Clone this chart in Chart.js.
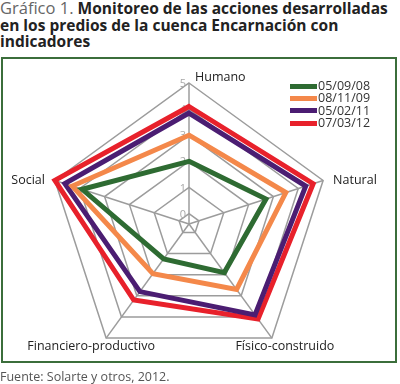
<!DOCTYPE html>
<html>
<head>
<meta charset="utf-8">
<script src="https://cdn.jsdelivr.net/npm/chart.js@4"></script>
<style>
  body { margin: 0; width: 400px; height: 384px; background: #fff; position: relative; overflow: hidden; font-family: 'Open Sans', sans-serif; }
  #title { position: absolute; left: 0; top: 0; width: 400px; font-size: 15.5px; line-height: 16.5px; color: #222; font-weight: bold; white-space: nowrap; }
  #title .pre { font-weight: normal; color: #666; font-size: 16.5px; }
  #frame { position: absolute; left: 1px; top: 57px; width: 392px; height: 302px; border: 2.5px solid #3b6e3b; }
  #chart { position: absolute; left: 0; top: 0; }
  #legend { position: absolute; left: 290px; top: 80px; font-size: 12.5px; color: #333; }
  #legend div { height: 12.3px; line-height: 12.3px; display: flex; align-items: center; }
  #legend span.sw { display: inline-block; width: 27px; height: 5px; margin-right: 1px; }
  #source { position: absolute; left: 0; top: 368px; font-size: 12.5px; color: #555; }
</style>
</head>
<body>
<div id="title"><span class="pre">Gráfico 1.</span> Monitoreo de las acciones desarrolladas<br>en los predios de la cuenca Encarnación con<br>indicadores</div>
<div id="frame"></div>
<canvas id="chart" width="400" height="384"></canvas>
<div id="legend"></div>
<div id="source">Fuente: Solarte y otros, 2012.</div>
<script>
const categories = ['Humano', 'Natural', 'Físico-construido', 'Financiero-productivo', 'Social'];
const seriesNames = ['05/09/08', '08/11/09', '05/02/11', '07/03/12'];
const values0809 = [2, 2.7, 1.9, 1.25, 3.9];
const values1109 = [3, 3.5, 2.7, 1.95, 4.3];
const values0211 = [3.85, 4.3, 3.9, 2.8, 4.6];
const values0312 = [4.1, 4.6, 4.1, 3.2, 5.0];
const tickLabels = [0, 1, 2, 3, 4, 5];

const colors = ['#2e6b32', '#f4884a', '#4b1d72', '#e8212b'];
const allValues = [values0809, values1109, values0211, values0312];

// legend
const legend = document.getElementById('legend');
seriesNames.forEach((name, i) => {
  const row = document.createElement('div');
  row.innerHTML = '<span class="sw" style="background:' + colors[i] + '"></span>' + name;
  legend.appendChild(row);
});

// tick numbers drawn left of the vertical axis, under the lines
const tickPlugin = {
  id: 'tickText',
  beforeDatasetsDraw(chart) {
    const scale = chart.scales.r;
    const ctx = chart.ctx;
    ctx.save();
    ctx.font = '11px "Open Sans"';
    ctx.fillStyle = '#a8a8a8';
    ctx.textAlign = 'center';
    ctx.textBaseline = 'middle';
    tickLabels.forEach(v => {
      const p = scale.getPointPositionForValue(0, v);
      ctx.fillText(String(v), p.x - 6, p.y + 1);
    });
    ctx.restore();
  }
};

// category names around the web
const labelPlugin = {
  id: 'catText',
  afterDraw(chart) {
    const scale = chart.scales.r;
    const ctx = chart.ctx;
    const place = [
      { align: 'left', dx: 6, dy: -6 },
      { align: 'left', dx: 10, dy: 0 },
      { align: 'center', dx: 13, dy: 8 },
      { align: 'center', dx: -15, dy: 8 },
      { align: 'right', dx: -10, dy: 0 }
    ];
    ctx.save();
    ctx.font = '12.5px "Open Sans"';
    ctx.fillStyle = '#222';
    ctx.textBaseline = 'middle';
    categories.forEach((c, i) => {
      const p = scale.getPointPositionForValue(i, 5);
      ctx.textAlign = place[i].align;
      ctx.fillText(c, p.x + place[i].dx, p.y + place[i].dy);
    });
    ctx.restore();
  }
};

new Chart(document.getElementById('chart'), {
  type: 'radar',
  data: {
    labels: categories,
    datasets: seriesNames.map((name, i) => ({
      label: name,
      data: allValues[i],
      borderColor: colors[i],
      backgroundColor: 'transparent',
      borderWidth: 5,
      pointRadius: 0,
      fill: false,
      borderJoinStyle: 'miter'
    }))
  },
  options: {
    responsive: false,
    animation: false,
    layout: { padding: { left: 48, right: 70, top: 83, bottom: 19 } },
    plugins: { legend: { display: false }, tooltip: { enabled: false } },
    scales: {
      r: {
        min: -0.4,
        max: 5,
        ticks: { display: false, stepSize: 1 },
        pointLabels: { display: false },
        grid: { color: '#9c9c9c', lineWidth: 1.5 },
        angleLines: { color: '#9c9c9c', lineWidth: 1.5 }
      }
    }
  },
  plugins: [tickPlugin, labelPlugin]
});
</script>
</body>
</html>
